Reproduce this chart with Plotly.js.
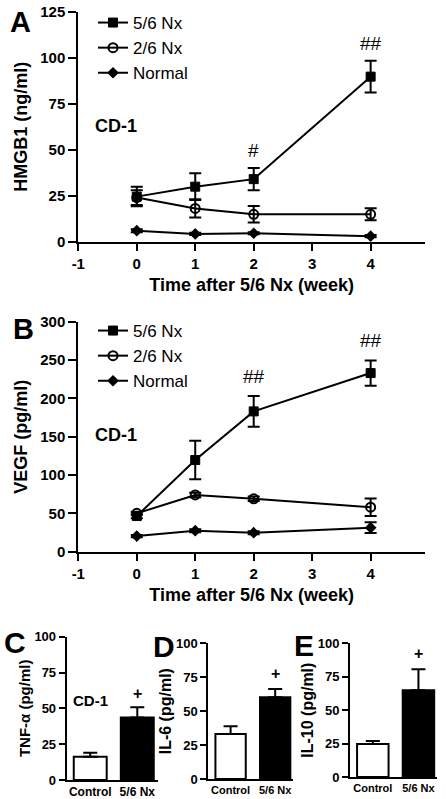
<!DOCTYPE html>
<html>
<head>
<meta charset="utf-8">
<script src="https://cdn.plot.ly/plotly-3.0.1.min.js"></script>
<style>html,body{margin:0;padding:0;background:#fff;}#chart{width:446px;height:799px;}</style>
</head>
<body>
<div id="chart"></div>
<script>
// ---------- data ----------
const weeks = [0, 1, 2, 4];
const xTickVals = [-1, 0, 1, 2, 3, 4];
const xTickText = ['-1', '0', '1', '2', '3', '4'];
const seriesNames = ['5/6 Nx', '2/6 Nx', 'Normal'];

// Panel A: HMGB1 (ng/ml)
const hmgb1_56 = [24.5, 29.9, 34.0, 89.7];
const hmgb1_56Err = [5.3, 7.3, 6.0, 8.6];
const hmgb1_26 = [24.0, 18.1, 14.9, 14.9];
const hmgb1_26Err = [4.0, 5.0, 4.5, 3.3];
const hmgb1_norm = [6.0, 4.2, 4.6, 3.0];
const hmgb1_normErr = [0.8, 0.6, 0.6, 0.6];

// Panel B: VEGF (pg/ml)
const vegf_56 = [46.5, 119.6, 183.0, 233.0];
const vegf_56Err = [3.0, 25.0, 20.0, 16.5];
const vegf_26 = [50.0, 74.0, 69.0, 58.0];
const vegf_26Err = [2.0, 3.0, 3.0, 11.5];
const vegf_norm = [20.4, 27.4, 24.8, 31.3];
const vegf_normErr = [1.5, 2.0, 2.0, 7.0];

// Panels C-E
const barCats = ['Control', '5/6 Nx'];
const tnf = [16.3, 43.7];
const tnfErr = [2.7, 7.0];
const il6 = [33.1, 60.2];
const il6Err = [5.7, 6.2];
const il10 = [24.7, 64.8];
const il10Err = [2.2, 15.7];

// ---------- helpers ----------
const W = 446, H = 799;
const FONT = 'Arial, "Liberation Sans", Helvetica, sans-serif';
const px = v => v / W;
const py = v => 1 - v / H;

const markerStyles = [
  {symbol: 'square', size: 9, color: '#000', line: {color: '#000', width: 1}},
  {symbol: 'circle-open', size: 9, color: '#000', line: {color: '#000', width: 2}},
  {symbol: 'diamond', size: 9, color: '#000', line: {color: '#000', width: 0}}
];

function lineTrace(y, err, idx, xa, ya, legendId) {
  return {
    type: 'scatter', mode: 'lines+markers', x: weeks, y: y,
    name: seriesNames[idx], xaxis: xa, yaxis: ya, legend: legendId,
    line: {color: '#000', width: 2},
    marker: markerStyles[idx],
    error_y: {type: 'data', array: err, visible: true, color: '#000', thickness: 2, width: 6},
    cliponaxis: false
  };
}

function barTrace(y, err, xa, ya, width) {
  return {
    type: 'bar', x: barCats, y: y, xaxis: xa, yaxis: ya, showlegend: false,
    width: width,
    marker: {color: ['#ffffff', '#000000'], line: {color: '#000', width: 2}},
    error_y: {type: 'data', array: err, arrayminus: [0, 0], symmetric: false, visible: true,
              color: '#000', thickness: 2, width: 7}
  };
}

const traces = [
  lineTrace(hmgb1_norm, hmgb1_normErr, 2, 'x', 'y', 'legend'),
  lineTrace(hmgb1_26, hmgb1_26Err, 1, 'x', 'y', 'legend'),
  lineTrace(hmgb1_56, hmgb1_56Err, 0, 'x', 'y', 'legend'),
  lineTrace(vegf_norm, vegf_normErr, 2, 'x2', 'y2', 'legend2'),
  lineTrace(vegf_26, vegf_26Err, 1, 'x2', 'y2', 'legend2'),
  lineTrace(vegf_56, vegf_56Err, 0, 'x2', 'y2', 'legend2'),
  barTrace(tnf, tnfErr, 'x3', 'y3', 0.7),
  barTrace(il6, il6Err, 'x4', 'y4', 0.68),
  barTrace(il10, il10Err, 'x5', 'y5', 0.69)
];

const tickFont = {family: FONT, size: 15, color: '#000', weight: 'bold'};
const titleFont = {family: FONT, size: 18, color: '#000', weight: 'bold'};

function timeXAxis(domain, anchor) {
  return {
    domain: domain, anchor: anchor, range: [-1, 4.93], tickvals: xTickVals, ticktext: xTickText,
    showline: true, linewidth: 2, linecolor: '#000', ticks: 'outside', ticklen: 7, tickwidth: 2,
    tickcolor: '#000', showgrid: false, zeroline: false, tickfont: tickFont,
    title: {text: 'Time after 5/6 Nx (week)', font: titleFont, standoff: 8}
  };
}
function valYAxis(domain, anchor, range, dtick, title) {
  return {
    domain: domain, anchor: anchor, range: range, dtick: dtick,
    showline: true, linewidth: 2, linecolor: '#000', ticks: 'outside', ticklen: 8, tickwidth: 2,
    tickcolor: '#000', showgrid: false, zeroline: false, tickfont: tickFont,
    title: {text: title, font: titleFont, standoff: 8}
  };
}
function catXAxis(domain, anchor, range, fs) {
  return {
    domain: domain, anchor: anchor, range: range, type: 'category',
    showline: true, linewidth: 2, linecolor: '#000', ticks: '', showgrid: false, zeroline: false,
    tickfont: {family: FONT, size: fs, color: '#000', weight: 'bold'}
  };
}
function barYAxis(domain, anchor, title, tsize) {
  return {
    domain: domain, anchor: anchor, range: [0, 100], dtick: 25,
    showline: true, linewidth: 2, linecolor: '#000', ticks: 'outside', ticklen: 6, tickwidth: 2,
    tickcolor: '#000', showgrid: false, zeroline: false,
    tickfont: {family: FONT, size: 13, color: '#000', weight: 'bold'},
    title: {text: title, font: {family: FONT, size: tsize, color: '#000', weight: 'bold'}, standoff: 0}
  };
}

const legendBase = {
  font: {family: FONT, size: 17, color: '#000'}, bgcolor: 'rgba(0,0,0,0)', borderwidth: 0,
  xanchor: 'left', yanchor: 'top', traceorder: 'reversed', itemwidth: 30
};

function ann(text, xref, yref, x, y, size, bold, extra) {
  return Object.assign({
    text: text, xref: xref, yref: yref, x: x, y: y, showarrow: false,
    xanchor: 'center', yanchor: 'middle',
    font: {family: FONT, size: size, color: '#000', weight: bold ? 'bold' : 'normal'}
  }, extra || {});
}

const layout = {
  width: W, height: H, margin: {l: 0, r: 0, t: 0, b: 0},
  paper_bgcolor: '#fff', plot_bgcolor: 'rgba(0,0,0,0)', bargap: 0.3,
  xaxis: timeXAxis([px(78.3), px(425)], 'y'),
  yaxis: valYAxis([py(241.7), py(11.7)], 'x', [0, 125], 25, 'HMGB1 (ng/ml)'),
  xaxis2: timeXAxis([px(78.3), px(425)], 'y2'),
  yaxis2: valYAxis([py(551.7), py(321.7)], 'x2', [0, 300], 50, 'VEGF (pg/ml)'),
  xaxis3: catXAxis([px(66.7), px(158)], 'y3', [-0.5, 1.44], 12),
  yaxis3: barYAxis([py(780), py(636.7)], 'x3', 'TNF-α (pg/ml)', 15),
  xaxis4: catXAxis([px(208.3), px(293)], 'y4', [-0.5, 1.4], 11),
  yaxis4: barYAxis([py(779), py(643.3)], 'x4', 'IL-6 (pg/ml)', 16),
  xaxis5: catXAxis([px(350), px(436.7)], 'y5', [-0.5, 1.4], 11),
  yaxis5: barYAxis([py(777), py(643.3)], 'x5', 'IL-10 (pg/ml)', 16),
  legend: Object.assign({}, legendBase, {x: px(93), y: py(5)}),
  legend2: Object.assign({}, legendBase, {x: px(93), y: py(313)}),
  annotations: [
    ann('A', 'paper', 'paper', px(20), py(22), 29, true),
    ann('B', 'paper', 'paper', px(23), py(329), 29, true),
    ann('C', 'paper', 'paper', px(15), py(642), 30, true),
    ann('D', 'paper', 'paper', px(164), py(646), 30, true),
    ann('E', 'paper', 'paper', px(304), py(645), 30, true),
    ann('CD-1', 'x', 'y', -0.75, 62.8, 18, true, {xanchor: 'left'}),
    ann('#', 'x', 'y', 2, 49.8, 19, false),
    ann('##', 'x', 'y', 4, 107.8, 19, false),
    ann('CD-1', 'x2', 'y2', -0.75, 152, 18, true, {xanchor: 'left'}),
    ann('##', 'x2', 'y2', 2, 228, 19, false),
    ann('##', 'x2', 'y2', 4, 276, 19, false),
    ann('CD-1', 'x3', 'y3', 0, 55.8, 15, true),
    ann('+', 'x3', 'y3', 1, 60.7, 16, true),
    ann('+', 'x4', 'y4', 1, 77.9, 16, true),
    ann('+', 'x5', 'y5', 1, 92.5, 16, true)
  ]
};

Plotly.newPlot('chart', traces, layout, {displayModeBar: false, staticPlot: true});
</script>
</body>
</html>
